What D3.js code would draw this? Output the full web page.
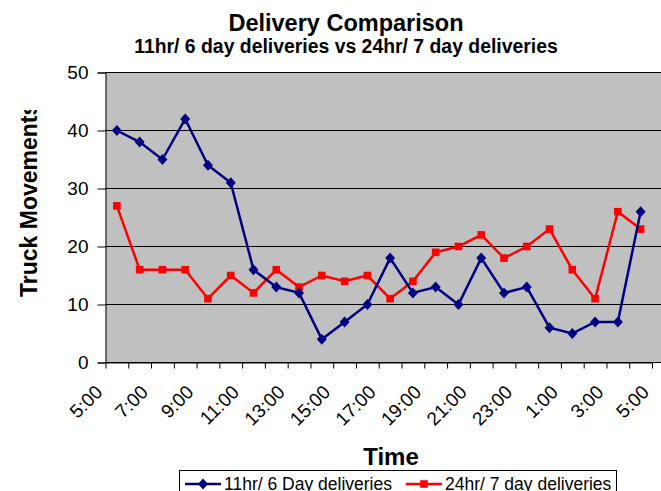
<!DOCTYPE html>
<html>
<head>
<meta charset="utf-8">
<script src="https://cdn.jsdelivr.net/npm/d3@7"></script>
<style>
  body { margin: 0; background: #fff; }
  svg { font-family: "Liberation Sans", Arial, sans-serif; }
</style>
</head>
<body>
<svg id="chart" width="661" height="491"></svg>
<script>
// hourly categories, 5:00 one day to 4:00 the next
var hours = ["5:00", "6:00", "7:00", "8:00", "9:00", "10:00", "11:00", "12:00",
	"13:00", "14:00", "15:00", "16:00", "17:00", "18:00", "19:00", "20:00",
	"21:00", "22:00", "23:00", "0:00", "1:00", "2:00", "3:00", "4:00"];

var sixDay = [40, 38, 35, 42, 34, 31, 16, 13, 12, 4, 7, 10,
	18, 12, 13, 10, 18, 12, 13, 6, 5, 7, 7, 26];

var sevenDay = [27, 16, 16, 16, 11, 15, 12, 16, 13, 15, 14, 15,
	11, 14, 19, 20, 22, 18, 20, 23, 16, 11, 26, 23];

var tickLabels = ["5:00", "7:00", "9:00", "11:00", "13:00", "15:00", "17:00",
	"19:00", "21:00", "23:00", "1:00", "3:00", "5:00"];

var yTicks = [0, 10, 20, 30, 40, 50];

var svg = d3.select("#chart");
var margin = {left: 105.5, top: 72.5};
var width = 546.5, height = 290;
// the grey area runs on past the last tick to the edge of the picture
var fillWidth = 661 - margin.left;

var g = svg.append("g")
	.attr("transform", "translate(" + margin.left + "," + margin.top + ")");

// boundaries between categories, points sit in the middle
var xb = d3.scaleLinear().domain([0, hours.length]).range([0, width]);
var x = function(i) { return xb(i + 0.5); };
var y = d3.scaleLinear().domain([0, 50]).range([height, 0]);

g.append("rect")
	.attr("width", fillWidth)
	.attr("height", height)
	.attr("fill", "#c0c0c0");

// gridlines
g.selectAll("line.grid")
	.data(yTicks.slice(1))
	.enter()
	.append("line")
		.attr("class", "grid")
		.attr("x1", 0)
		.attr("x2", fillWidth)
		.attr("y1", function(d) { return Math.round(y(d)); })
		.attr("y2", function(d) { return Math.round(y(d)); })
		.attr("stroke", "#000")
		.attr("stroke-width", 1);

g.append("line")
	.attr("x1", 0)
	.attr("x2", fillWidth)
	.attr("y1", height)
	.attr("y2", height)
	.attr("stroke", "#000");

// y axis
var yAxis = g.append("g")
	.call(d3.axisLeft(y).tickValues(yTicks).tickSize(8).tickPadding(9));
yAxis.selectAll("text")
	.attr("font-size", 19)
	.attr("fill", "#000");
yAxis.selectAll("line, path").attr("stroke", "#000");

// x axis
var xAxis = g.append("g")
	.attr("transform", "translate(0," + height + ")")
	.call(d3.axisBottom(xb)
		.tickValues(d3.range(hours.length + 1))
		.tickSize(6)
		.tickSizeOuter(0)
		.tickFormat(function(i) { return i % 2 == 0 ? tickLabels[i / 2] : ""; }));
xAxis.selectAll("line, path").attr("stroke", "#000");
xAxis.selectAll("text")
	.attr("font-size", 19)
	.attr("fill", "#000")
	.attr("text-anchor", "end")
	.attr("y", 0)
	.attr("dy", "0.35em")
	.attr("transform", "translate(-7,26) rotate(-45)");

// lines and markers
var line = d3.line()
	.x(function(d, i) { return x(i); })
	.y(function(d) { return y(d); });

function drawSeries(values, color, marker) {
	g.append("path")
		.datum(values)
		.attr("d", line)
		.attr("fill", "none")
		.attr("stroke", color)
		.attr("stroke-width", 2.5);

	g.selectAll(null)
		.data(values)
		.enter()
		.append("path")
			.attr("transform", function(d, i) {
				return "translate(" + x(i) + "," + y(d) + ")";
			})
			.attr("d", marker)
			.attr("fill", color);
}

var diamond = "M0,-5.5L5,0L0,5.5L-5,0Z";
var square = "M-3.8,-3.8H3.8V3.8H-3.8Z";

drawSeries(sevenDay, "#ff0000", square);
drawSeries(sixDay, "#000080", diamond);

// titles
svg.append("text")
	.attr("x", 346)
	.attr("y", 31)
	.attr("text-anchor", "middle")
	.attr("font-size", 23.5)
	.attr("font-weight", "bold")
	.text("Delivery Comparison");

svg.append("text")
	.attr("x", 346)
	.attr("y", 53)
	.attr("text-anchor", "middle")
	.attr("font-size", 19.4)
	.attr("font-weight", "bold")
	.text("11hr/ 6 day deliveries vs 24hr/ 7 day deliveries");

svg.append("text")
	.attr("x", 391)
	.attr("y", 465)
	.attr("text-anchor", "middle")
	.attr("font-size", 24)
	.attr("font-weight", "bold")
	.text("Time");

// y title, cut at the top like the original
svg.append("clipPath")
	.attr("id", "ytitle-clip")
	.append("rect")
		.attr("x", 0)
		.attr("y", 110)
		.attr("width", 60)
		.attr("height", 250);

svg.append("g")
	.attr("clip-path", "url(#ytitle-clip)")
	.append("text")
		.attr("transform", "translate(36.5,297) rotate(-90)")
		.attr("font-size", 23)
		.attr("font-weight", "bold")
		.text("Truck Movements");

// legend
var legend = svg.append("g");
legend.append("rect")
	.attr("x", 179.5)
	.attr("y", 470.5)
	.attr("width", 437)
	.attr("height", 30)
	.attr("fill", "#fff")
	.attr("stroke", "#000");

var legendItems = [
	{name: "11hr/ 6 Day deliveries", color: "#000080", marker: diamond, x: 185},
	{name: "24hr/ 7 day deliveries", color: "#ff0000", marker: square, x: 406}
];

var items = legend.selectAll("g.item")
	.data(legendItems)
	.enter()
	.append("g")
		.attr("class", "item")
		.attr("transform", function(d) { return "translate(" + d.x + ",484)"; });

items.append("line")
	.attr("x1", 0)
	.attr("x2", 36)
	.attr("stroke", function(d) { return d.color; })
	.attr("stroke-width", 2.5);

items.append("path")
	.attr("transform", "translate(18,0)")
	.attr("d", function(d) { return d.marker; })
	.attr("fill", function(d) { return d.color; });

items.append("text")
	.attr("x", 39)
	.attr("y", 6)
	.attr("font-size", 17.5)
	.text(function(d) { return d.name; });
</script>
</body>
</html>
